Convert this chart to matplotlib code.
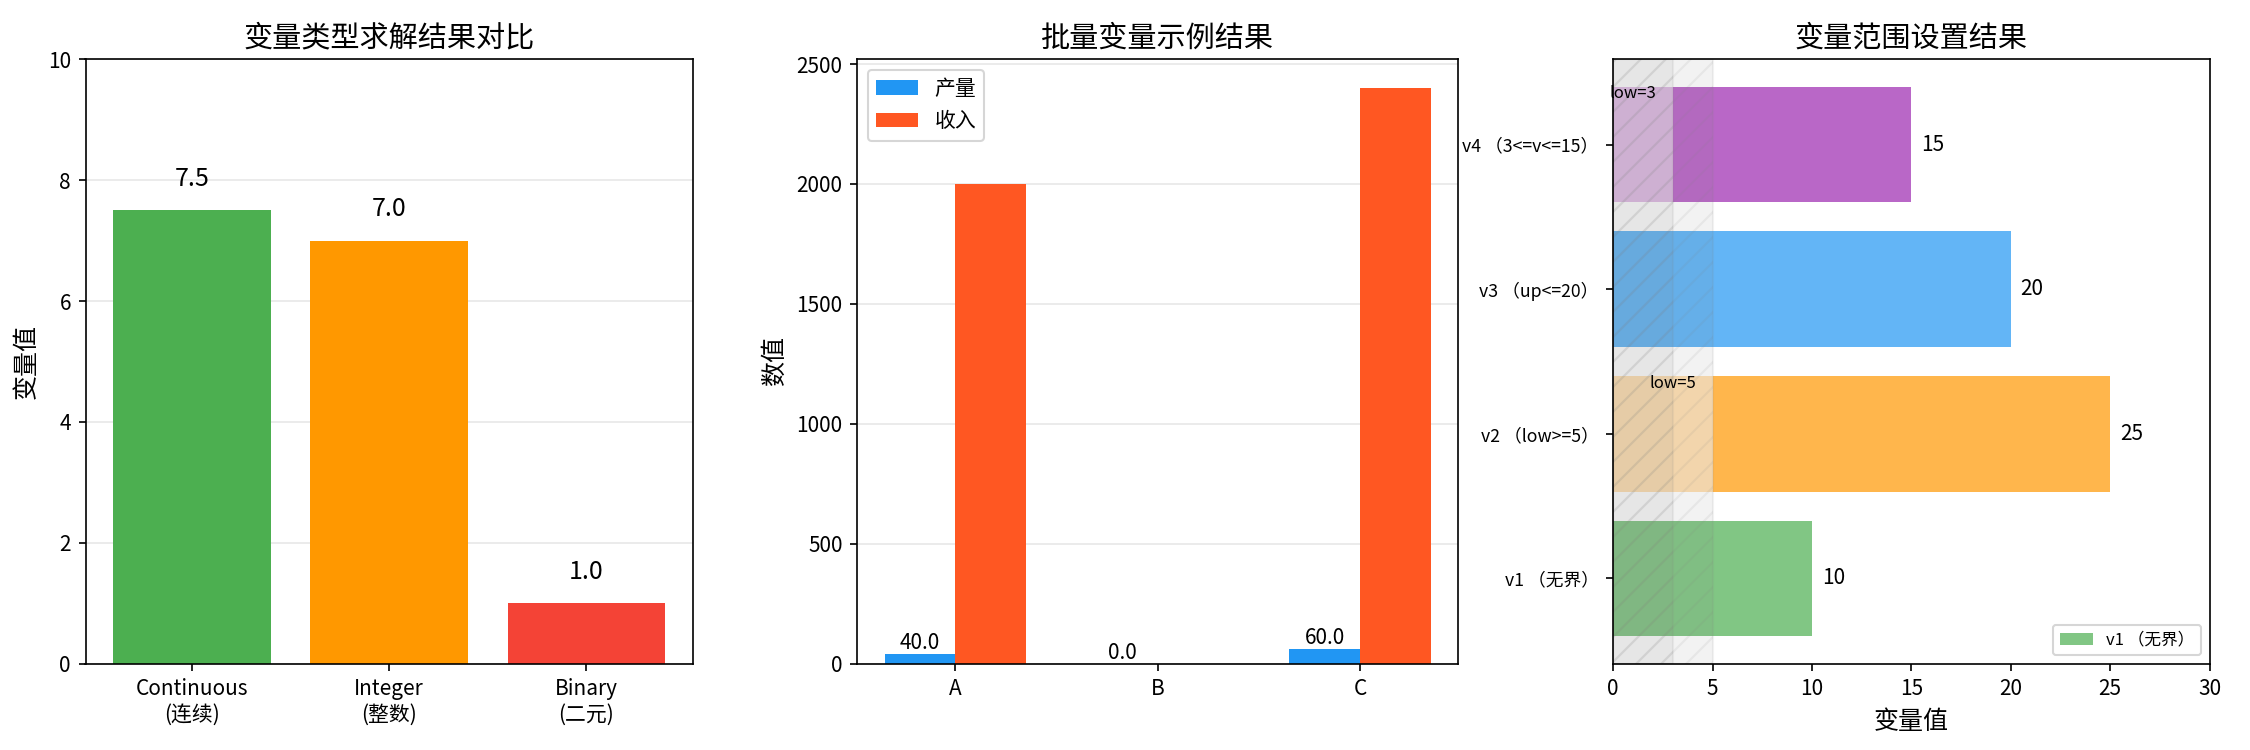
import matplotlib
matplotlib.use("Agg")
import matplotlib.pyplot as plt
import numpy as np

plt.rcParams['font.family'] = ['Noto Sans CJK SC', 'DejaVu Sans']
plt.rcParams['axes.unicode_minus'] = False

# Panel 1 data
type_labels = ['Continuous\n(连续)', 'Integer\n(整数)', 'Binary\n(二元)']
type_values = [7.5, 7.0, 1.0]
type_colors = ['#4CAF50', '#FF9800', '#F44336']

# Panel 2 data
batch_cats = ['A', 'B', 'C']
batch_output = [40.0, 0.0, 60.0]
batch_income = [2000.0, 0.0, 2400.0]

# Panel 3 data
range_labels = ['v1 （无界）', 'v2 （low>=5）', 'v3 （up<=20）', 'v4 （3<=v<=15）']
range_values = [10, 25, 20, 15]
range_lows = [0, 5, 0, 3]
range_colors = ['#4CAF50', '#FF9800', '#2196F3', '#9C27B0']

fig = plt.figure(figsize=(15, 5), dpi=150)
ax1 = fig.add_axes([0.038, 0.115, 0.270, 0.806])
ax2 = fig.add_axes([0.381, 0.115, 0.267, 0.806])
ax3 = fig.add_axes([0.717, 0.115, 0.265, 0.806])

# ---- Panel 1
x1 = np.arange(len(type_labels))
ax1.bar(x1, type_values, color=type_colors, width=0.8)
for xi, v in zip(x1, type_values):
    ax1.text(xi, v + 0.3, f'{v:.1f}', ha='center', va='bottom', fontsize=12)
ax1.set_xticks(x1)
ax1.set_xticklabels(type_labels)
ax1.set_ylim(0, 10)
ax1.set_ylabel('变量值', fontsize=12)
ax1.set_title('变量类型求解结果对比', fontsize=14)
ax1.grid(axis='y', alpha=0.3)
ax1.set_axisbelow(True)

# ---- Panel 2
x2 = np.arange(len(batch_cats))
w = 0.35
ax2.bar(x2 - w / 2, batch_output, w, label='产量', color='#2196F3')
ax2.bar(x2 + w / 2, batch_income, w, label='收入', color='#FF5722')
for xi, v in zip(x2, batch_output):
    ax2.text(xi - w / 2, v, f'{v:.1f}', ha='center', va='bottom', fontsize=10)
ax2.set_xticks(x2)
ax2.set_xticklabels(batch_cats)
ax2.set_ylabel('数值', fontsize=12)
ax2.set_title('批量变量示例结果', fontsize=14)
ax2.legend(loc='upper left', fontsize=10)
ax2.grid(axis='y', alpha=0.3)
ax2.set_axisbelow(True)

# ---- Panel 3
y3 = np.arange(len(range_labels))
for i, (v, lo, c, lab) in enumerate(zip(range_values, range_lows, range_colors, range_labels)):
    if lo > 0:
        ax3.barh(i, lo, left=0, height=0.8, color=c, alpha=0.3)
        ax3.barh(i, v - lo, left=lo, height=0.8, color=c, alpha=0.7)
        ax3.text(lo - 2, i + 0.35, f'low={lo}', ha='center', va='center', fontsize=8)
    else:
        ax3.barh(i, v, height=0.8, color=c, alpha=0.7, label=lab if i == 0 else None)
    ax3.text(v + 0.5, i, f'{v}', va='center', fontsize=10)
for lo in range_lows:
    if lo > 0:
        ax3.axvspan(0, lo, color='gray', alpha=0.1, hatch='//')
ax3.set_yticks(y3)
ax3.set_yticklabels(range_labels, fontsize=8.5)
ax3.set_xlim(0, 30)
ax3.set_xlabel('变量值', fontsize=12)
ax3.set_title('变量范围设置结果', fontsize=14)
ax3.legend(loc='lower right', fontsize=8)

fig.savefig('out.png', dpi=150)
